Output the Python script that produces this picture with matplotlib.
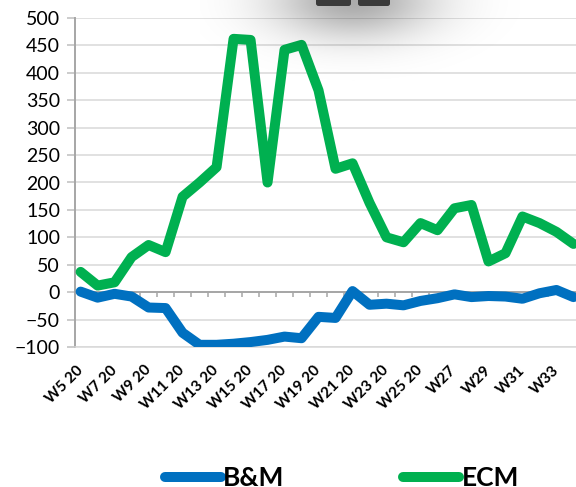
import numpy as np
import matplotlib
matplotlib.use("Agg")
import matplotlib.pyplot as plt
from matplotlib.patches import FancyBboxPatch

weeks = ["W5 20", "W6 20", "W7 20", "W8 20", "W9 20", "W10 20", "W11 20",
         "W12 20", "W13 20", "W14 20", "W15 20", "W16 20", "W17 20", "W18 20",
         "W19 20", "W20 20", "W21 20", "W22 20", "W23 20", "W24 20", "W25 20",
         "W26 20", "W27", "W28", "W29", "W30", "W31", "W32", "W33", "W34"]

bm = [1, -10, -3, -8, -28, -29, -74, -96, -96, -94, -91, -87, -81, -84, -45,
      -47, 2, -23, -21, -24, -16, -11, -4, -9, -7, -8, -12, -2, 4, -9]
ecm = [37, 12, 18, 64, 86, 73, 174, 200, 228, 462, 460, 200, 442, 451, 368,
       225, 235, 163, 100, 91, 126, 113, 153, 159, 56, 71, 138, 126, 110, 88]

blue = "#0070c0"
green = "#00b050"

plt.rcParams['font.family'] = ['Lato', 'DejaVu Sans']

fig = plt.figure(figsize=(5.76, 4.87), dpi=100)
ax = fig.add_axes([75 / 576, 140 / 487, 501 / 576, 329 / 487])

x = np.arange(len(weeks))
l1, = ax.plot(x, bm, color=blue, lw=7.2, solid_joinstyle='round',
              solid_capstyle='round', label="B&M", zorder=3)
l2, = ax.plot(x, ecm, color=green, lw=7.2, solid_joinstyle='round',
              solid_capstyle='round', label="ECM", zorder=4)

ax.set_xlim(-0.33, 29.15)
ax.set_ylim(-100, 500)
ax.set_yticks(np.arange(-100, 501, 50))
ax.yaxis.grid(True, color="#d9d9d9", lw=1.1)
ax.set_axisbelow(True)

for s in ("top", "right"):
    ax.spines[s].set_visible(False)
ax.spines["left"].set_color("#a6a6a6")
ax.spines["left"].set_linewidth(1.4)
ax.spines["bottom"].set_color("#d9d9d9")
ax.spines["bottom"].set_linewidth(1.1)

ax.tick_params(axis="y", direction="out", length=5.8, width=1.1,
               color="#bfbfbf", pad=5, labelsize=14)
ax.set_xticks(x[::2])
ax.set_xticklabels(weeks[::2], rotation=45, ha="right", va="center",
                   rotation_mode="anchor", fontweight="bold", fontsize=11)
ax.tick_params(axis="x", length=0, pad=15)

# category axis crossing at zero, tick marks between categories
zero = ax.secondary_xaxis(0, transform=ax.transData)
zero.set_xticks(np.arange(0.5, len(weeks) - 0.5, 1))
zero.set_xticklabels([])
zero.tick_params(direction="out", length=3.8, width=1.1, color="#a6a6a6")
zero.spines["bottom"].set_color("#a6a6a6")
zero.spines["bottom"].set_linewidth(1.4)
zero.set_zorder(2)

fig.legend(handles=[l1, l2], loc="center", bbox_to_anchor=(342 / 576, 1 - 478 / 487),
           ncol=2, frameon=False, prop={"weight": "bold", "size": 19},
           handlelength=2.1, handletextpad=0.1, columnspacing=4.5)

# dark buttons with a soft shadow along the top edge
over = fig.add_axes([0, 0, 1, 1], zorder=10)
over.set_xlim(0, 576)
over.set_ylim(487, 0)
over.axis("off")
gx, gy = np.meshgrid(np.arange(200, 520), np.arange(0, 110))
alpha = 0.33 * np.exp(-((gx - 353) / 80.0) ** 2 - (gy / 38.0) ** 2)
shade = np.zeros(gx.shape + (4,))
shade[..., 3] = alpha
over.imshow(shade, extent=(200, 520, 110, 0), interpolation="bilinear")
for bx, bw in ((316, 35), (358, 32)):
    over.add_patch(FancyBboxPatch((bx, -6), bw, 12, boxstyle="round,pad=0,rounding_size=2.5",
                                  fc="#3a3a3a", ec="none"))
over.set_xlim(0, 576)
over.set_ylim(487, 0)

fig.savefig("out.png", dpi=100)
